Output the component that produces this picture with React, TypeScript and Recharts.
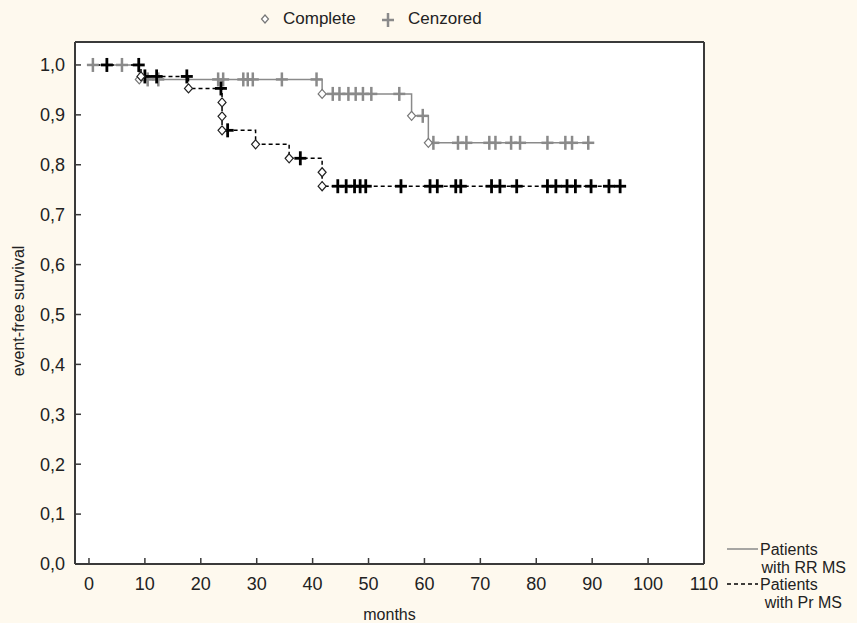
import React from 'react';
import { ComposedChart, Line, Scatter, XAxis, YAxis, CartesianGrid } from 'recharts';

// Patients with RR MS (gray, solid)
const rrEventMonths = [9, 41.7, 57.7, 60.7];
const rrEventSurvival = [0.971, 0.942, 0.898, 0.844];
const rrCensorMonths = [
  0.7, 5.9, 10.5, 12.4, 23.1, 24, 27.6, 28.4, 29.3, 34.5, 40.7, 43.6, 44.8, 46.4, 47.7, 49, 50.5,
  55.5, 59.7, 61.6, 66, 67.5, 71.6, 72.7, 75.5, 77.1, 82, 85.2, 86.4, 89.3,
];

// Patients with Pr MS (black, dashed)
const prEventMonths = [9.3, 17.8, 23.8, 23.8, 23.8, 29.8, 35.8, 41.7, 41.7];
const prEventSurvival = [0.977, 0.953, 0.925, 0.897, 0.869, 0.841, 0.813, 0.785, 0.757];
const prCensorMonths = [
  3.2, 8.9, 10, 12.1, 17.5, 23.6, 24.8, 37.8, 44.5, 46, 47.5, 48.5, 49.5, 55.8, 61, 62.3, 65.6,
  66.5, 72, 73.5, 76.5, 82, 83.5, 85.5, 87, 89.8, 93, 95,
];

const xTicks = [0, 10, 20, 30, 40, 50, 60, 70, 80, 90, 100, 110];
const yTicks = [0, 0.1, 0.2, 0.3, 0.4, 0.5, 0.6, 0.7, 0.8, 0.9, 1.0];

const NARROW = "'Liberation Sans Narrow', 'Arial Narrow', 'Liberation Sans', Arial, sans-serif";
const SANS = "'Liberation Sans', Arial, sans-serif";
const AXIS = '#3a3a3a';
const GRAY = '#8a8a8a';
const BG = '#fef9ee';

const survivalAt = (months: number[], surv: number[], t: number) => {
  let s = 1;
  months.forEach((m, i) => {
    if (m <= t) s = surv[i];
  });
  return s;
};

const stepLine = (months: number[], surv: number[], end: number) => [
  { x: 0, y: 1 },
  ...months.map((m, i) => ({ x: m, y: surv[i] })),
  { x: end, y: surv[surv.length - 1] },
];

const rrLine = stepLine(rrEventMonths, rrEventSurvival, rrCensorMonths[rrCensorMonths.length - 1]);
const prLine = stepLine(prEventMonths, prEventSurvival, prCensorMonths[prCensorMonths.length - 1]);
const rrEvents = rrEventMonths.map((m, i) => ({ x: m, y: rrEventSurvival[i] }));
const prEvents = prEventMonths.map((m, i) => ({ x: m, y: prEventSurvival[i] }));
const rrCensored = rrCensorMonths.map((m) => ({ x: m, y: survivalAt(rrEventMonths, rrEventSurvival, m) }));
const prCensored = prCensorMonths.map((m) => ({ x: m, y: survivalAt(prEventMonths, prEventSurvival, m) }));

const diamond = (color: string) => (props: any) => {
  const { cx, cy } = props;
  return (
    <polygon
      points={`${cx},${cy - 4.5} ${cx + 4},${cy} ${cx},${cy + 4.5} ${cx - 4},${cy}`}
      fill="#fff"
      stroke={color}
      strokeWidth={1.2}
    />
  );
};

const plus = (color: string, w: number) => (props: any) => {
  const { cx, cy } = props;
  return (
    <g stroke={color} strokeWidth={w}>
      <line x1={cx - 6} y1={cy} x2={cx + 6} y2={cy} />
      <line x1={cx} y1={cy - 7} x2={cx} y2={cy + 7} />
    </g>
  );
};

const fmt = (v: number) => v.toFixed(1).replace('.', ',');

const YLabel = (props: any) => {
  const { viewBox } = props;
  const x = viewBox.x + 20;
  const y = viewBox.y + viewBox.height / 2 + 8;
  return (
    <text x={x} y={y} transform={`rotate(-90 ${x} ${y})`} textAnchor="middle" dominantBaseline="middle"
      fontFamily={NARROW} fontSize={16} fill="#222">
      event-free survival
    </text>
  );
};

const abs = (left: number, top: number, extra: React.CSSProperties = {}): React.CSSProperties => ({
  position: 'absolute', left, top, lineHeight: '17px', whiteSpace: 'nowrap', ...extra,
});

export default function App() {
  return (
    <div style={{ position: 'absolute', left: 0, top: 0, width: 857, height: 623, background: BG, overflow: 'hidden' }}>
      <ComposedChart width={857} height={623} margin={{ top: 41, right: 152, bottom: 0, left: 0 }}>
        <CartesianGrid fill="#fff" horizontal={false} vertical={false} xAxisId="b" yAxisId="l" />
        <XAxis
          xAxisId="b" type="number" dataKey="x" domain={[-2.5, 110]} allowDataOverflow ticks={xTicks}
          height={59} tickSize={-6} tickMargin={19}
          axisLine={{ stroke: AXIS, strokeWidth: 2 }} tickLine={{ stroke: AXIS, strokeWidth: 1.5 }}
          tick={{ fill: '#222', fontSize: 18, fontFamily: NARROW }}
          label={{ value: 'months', position: 'insideBottom', offset: 3, fill: '#222', fontSize: 16, fontFamily: NARROW }}
        />
        <XAxis
          xAxisId="t" orientation="top" type="number" domain={[-2.5, 110]} allowDataOverflow ticks={xTicks}
          height={1} tickSize={-6} tick={false}
          axisLine={{ stroke: AXIS, strokeWidth: 2 }} tickLine={{ stroke: AXIS, strokeWidth: 1.5 }}
        />
        <YAxis
          yAxisId="l" type="number" dataKey="y" domain={[0, 1.046]} allowDataOverflow ticks={yTicks}
          width={75} tickSize={-6} tickMargin={16} tickFormatter={fmt}
          axisLine={{ stroke: AXIS, strokeWidth: 2 }} tickLine={{ stroke: AXIS, strokeWidth: 1.5 }}
          tick={{ fill: '#222', fontSize: 18, fontFamily: NARROW }}
          label={<YLabel />}
        />
        <YAxis
          yAxisId="r" orientation="right" type="number" domain={[0, 1.046]} allowDataOverflow
          width={1} tick={false} tickLine={false} axisLine={{ stroke: AXIS, strokeWidth: 2 }}
        />
        <Line xAxisId="b" yAxisId="l" data={rrLine} dataKey="y" type="stepAfter" stroke={GRAY}
          strokeWidth={1.5} dot={false} activeDot={false} isAnimationActive={false} />
        <Line xAxisId="b" yAxisId="l" data={prLine} dataKey="y" type="stepAfter" stroke="#000"
          strokeWidth={1.5} strokeDasharray="4 3" dot={false} activeDot={false} isAnimationActive={false} />
        <Scatter xAxisId="b" yAxisId="l" data={rrCensored} dataKey="y" shape={plus(GRAY, 2.5)} isAnimationActive={false} />
        <Scatter xAxisId="b" yAxisId="l" data={prCensored} dataKey="y" shape={plus('#000', 2.8)} isAnimationActive={false} />
        <Scatter xAxisId="b" yAxisId="l" data={rrEvents} dataKey="y" shape={diamond('#777')} isAnimationActive={false} />
        <Scatter xAxisId="b" yAxisId="l" data={prEvents} dataKey="y" shape={diamond('#222')} isAnimationActive={false} />
      </ComposedChart>

      {/* top legend */}
      <svg style={{ position: 'absolute', left: 260, top: 14 }} width={10} height={10}>
        <polygon points="5,1 8.5,5 5,9 1.5,5" fill="#fff" stroke="#777" strokeWidth={1.2} />
      </svg>
      <div style={abs(283, 10, { fontFamily: SANS, fontSize: 17, color: '#222' })}>Complete</div>
      <svg style={{ position: 'absolute', left: 381, top: 12 }} width={14} height={16}>
        <g stroke={GRAY} strokeWidth={2.5}>
          <line x1={1} y1={8} x2={13} y2={8} />
          <line x1={7} y1={1} x2={7} y2={15} />
        </g>
      </svg>
      <div style={abs(408, 10, { fontFamily: SANS, fontSize: 17, color: '#222' })}>Cenzored</div>

      {/* series legend */}
      <svg style={{ position: 'absolute', left: 727, top: 547 }} width={32} height={4}>
        <line x1={0} y1={2} x2={31} y2={2} stroke={GRAY} strokeWidth={1.5} />
      </svg>
      <div style={abs(760, 540.5, { fontFamily: SANS, fontSize: 16, color: '#222' })}>Patients</div>
      <div style={abs(0, 558.5, { width: 846, textAlign: 'right', fontFamily: SANS, fontSize: 16, color: '#222' })}>with RR MS</div>
      <svg style={{ position: 'absolute', left: 727, top: 582 }} width={32} height={4}>
        <line x1={0} y1={2} x2={31} y2={2} stroke="#000" strokeWidth={1.5} strokeDasharray="4 3" />
      </svg>
      <div style={abs(760, 575.5, { fontFamily: SANS, fontSize: 16, color: '#222' })}>Patients</div>
      <div style={abs(0, 593.5, { width: 842, textAlign: 'right', fontFamily: SANS, fontSize: 16, color: '#222' })}>with Pr MS</div>
    </div>
  );
}
